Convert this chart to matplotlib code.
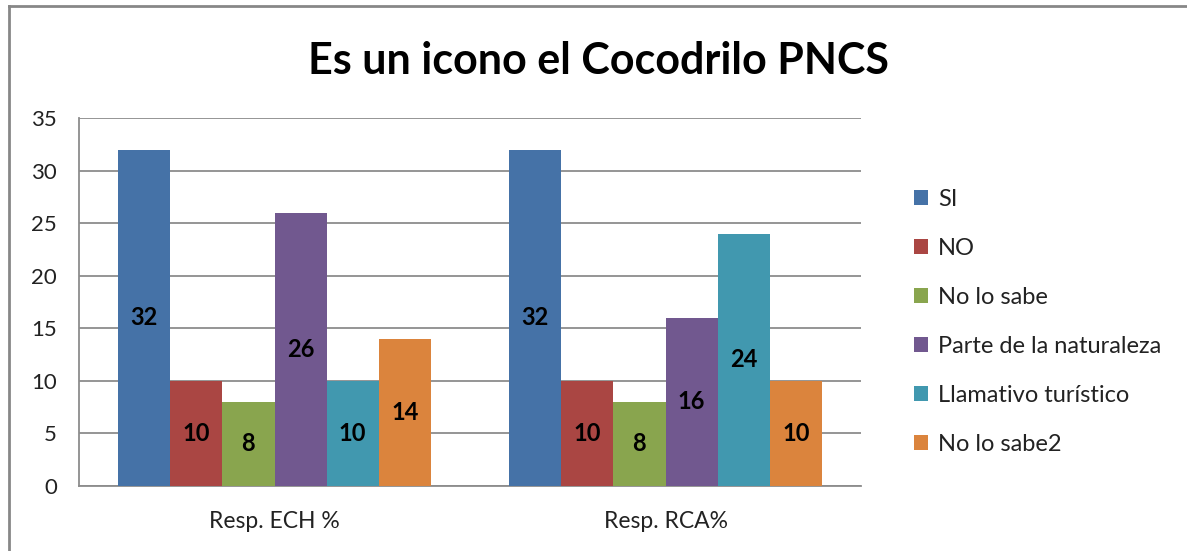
import matplotlib
matplotlib.use("Agg")
import matplotlib.pyplot as plt
from matplotlib.patches import Patch
from matplotlib.lines import Line2D
import numpy as np

plt.rcParams['font.family'] = ['Lato', 'DejaVu Sans']

categories = ["Resp. ECH %", "Resp. RCA%"]
series_names = ["SI", "NO", "No lo sabe", "Parte de la naturaleza",
                "Llamativo turístico", "No lo sabe2"]
si = [32, 32]
no = [10, 10]
no_lo_sabe = [8, 8]
parte_naturaleza = [26, 16]
llamativo = [10, 24]
no_lo_sabe2 = [14, 10]
series_values = [si, no, no_lo_sabe, parte_naturaleza, llamativo, no_lo_sabe2]
colors = ["#4572A7", "#AA4643", "#89A54E", "#71588F", "#4198AF", "#DB843D"]
yticks = [0, 5, 10, 15, 20, 25, 30, 35]

W, H = 1187, 551
fig = plt.figure(figsize=(W / 100, H / 100), dpi=100)
ax = fig.add_axes([79 / W, (H - 486) / H, 782 / W, 368 / H])

x = np.arange(len(categories))
n = len(series_names)
group_w = 0.8
bw = group_w / n
for i, (name, vals, c) in enumerate(zip(series_names, series_values, colors)):
    pos = x - group_w / 2 + bw * (i + 0.5)
    bars = ax.bar(pos, vals, width=bw, color=c, label=name, zorder=3)
    for b, v in zip(bars, vals):
        ax.text(b.get_x() + b.get_width() / 2, v / 2, str(v), ha='center', va='center',
                fontsize=17, fontweight='bold', color='black', zorder=4)

ax.set_xlim(-0.5, len(categories) - 0.5)
ax.set_ylim(0, 35)
ax.set_yticks(yticks)
ax.set_yticklabels([str(t) for t in yticks], fontsize=16, color='#222222')
ax.set_xticks(x)
ax.set_xticklabels(categories, fontsize=16.5, color='#222222')
ax.tick_params(axis='y', length=0, pad=16)
ax.tick_params(axis='x', length=0, pad=18)
ax.grid(axis='y', color='#8c8c8c', linewidth=1.3, zorder=0)
for s in ['top', 'right']:
    ax.spines[s].set_visible(False)
ax.spines['left'].set_color('#8c8c8c')
ax.spines['left'].set_linewidth(1.3)
ax.spines['bottom'].set_color('#8c8c8c')
ax.spines['bottom'].set_linewidth(1.3)

fig.text(599 / W, 1 - 61 / H, "Es un icono el Cocodrilo PNCS", ha='center', va='center',
         fontsize=31, fontweight='bold', color='black')

handles = [Patch(facecolor=c, edgecolor='none') for c in colors]
leg = fig.legend(handles, series_names, loc='upper left',
                 bbox_to_anchor=(893 / W, 1 - 168 / H), frameon=False,
                 fontsize=17, handlelength=0.6, handleheight=0.6,
                 handletextpad=0.4, labelspacing=1.18)
for t in leg.get_texts():
    t.set_color('#222222')

# chart outer border (top and left visible)
fig.add_artist(Line2D([9 / W, 9 / W], [0, 1 - 6 / H], transform=fig.transFigure,
                      color='#878787', linewidth=2))
fig.add_artist(Line2D([9 / W, 1], [1 - 6 / H, 1 - 6 / H], transform=fig.transFigure,
                      color='#878787', linewidth=2))

fig.savefig("out.png", dpi=100, facecolor='white')
